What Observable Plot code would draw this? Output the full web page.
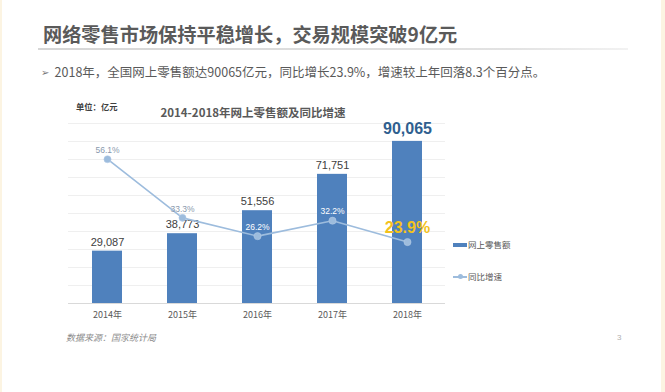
<!DOCTYPE html>
<html>
<head>
<meta charset="utf-8">
<script src="https://cdn.jsdelivr.net/npm/d3@7"></script>
<script src="https://cdn.jsdelivr.net/npm/@observablehq/plot@0.6"></script>
<style>
  html, body { margin: 0; padding: 0; }
  body { width: 665px; height: 392px; background: #fcf4e2; position: relative; overflow: hidden;
         font-family: "Noto Sans CJK SC", "Liberation Sans", sans-serif; }
  #page { position: absolute; left: 2px; top: 0; width: 659px; height: 392px; background: #ffffff; }
  .abs { position: absolute; white-space: nowrap; line-height: 1; }
  #chart { position: absolute; left: 0; top: 0; }
</style>
</head>
<body>
<div id="page"></div>
<div id="chart"></div>
<div class="abs" style="left:43px; top:25px; font-size:19.2px; font-weight:bold; color:#5a5a5a;">网络零售市场保持平稳增长，交易规模突破9亿元</div>
<div class="abs" style="left:38px; top:48px; width:590px; height:2px; background:linear-gradient(to right,#d6d6d6,#e2e2e2 80%,#f2f2f2);"></div>
<div class="abs" style="left:41px; top:66px; font-size:12.5px; color:#595959;"><span style="font-size:10px; color:#777; position:relative; top:-1px;">➢</span>&nbsp; 2018年，全国网上零售额达90065亿元，同比增长23.9%，增速较上年回落8.3个百分点。</div>
<div class="abs" style="left:76px; top:102px; font-size:8.3px; font-weight:bold; color:#404040;">单位：亿元</div>
<div class="abs" style="left:253px; top:107px; transform:translateX(-50%); font-size:11.5px; font-weight:bold; color:#595959;">2014-2018年网上零售额及同比增速</div>
<div class="abs" style="left:453px; top:243px; width:14px; height:4px; background:#4f81bd;"></div>
<div class="abs" style="left:468px; top:240px; font-size:8.5px; color:#595959;">网上零售额</div>
<div class="abs" style="left:453px; top:276px; width:14px; height:1.5px; background:#9dbcdd;"></div>
<div class="abs" style="left:457.5px; top:274px; width:5px; height:5px; border-radius:50%; background:#9dbcdd;"></div>
<div class="abs" style="left:468px; top:272px; font-size:8.5px; color:#595959;">同比增速</div>
<div class="abs" style="left:66px; top:333px; font-size:9px; font-style:italic; color:#8c8c8c;">数据来源：国家统计局</div>
<div class="abs" style="left:617px; top:334px; font-size:8px; color:#b0b0b0; font-family:'Liberation Sans';">3</div>
<script>
const years = [2014, 2015, 2016, 2017, 2018];
const sales = [29087, 38773, 51556, 71751, 90065];
const growth = [56.1, 33.3, 26.2, 32.2, 23.9];
const gridTicks = [10000, 20000, 30000, 40000, 50000, 60000, 70000, 80000, 90000, 100000];
const salesMax = 100000;
const growthMax = 70;

const rows = years.map((y, i) => ({year: y, sales: sales[i], growth: growth[i]}));
const toPrimary = g => g * salesMax / growthMax;
const fmt = d3.format(",");

const chart = Plot.plot({
  width: 665,
  height: 392,
  marginLeft: 68,
  marginRight: 220,
  marginTop: 123,
  marginBottom: 89,
  style: {background: "transparent", fontFamily: "'Liberation Sans', 'Noto Sans CJK SC', sans-serif"},
  x: {type: "band", domain: years, paddingInner: 0.6, paddingOuter: 0.3, axis: null, label: null},
  y: {domain: [0, salesMax], axis: null, label: null},
  marks: [
    Plot.ruleY(gridTicks, {stroke: "#efefef", strokeWidth: 1}),
    Plot.barY(rows, {x: "year", y: "sales", fill: "#4f81bd"}),
    Plot.ruleY([0], {stroke: "#d9d9d9", strokeWidth: 1.2}),
    Plot.axisX({tickSize: 0, tickPadding: 8, fontSize: 9, fill: "#595959", label: null,
                fontFamily: "'Noto Sans CJK SC', sans-serif", tickFormat: d => d + "年"}),
    Plot.text(rows.filter(d => d.year !== 2018), {x: "year", y: "sales", text: d => fmt(d.sales),
      dy: -9, fontSize: 11, fill: "#404040"}),
    Plot.text(rows.filter(d => d.year === 2018), {x: "year", y: "sales", text: d => fmt(d.sales),
      dy: -13, fontSize: 16, fontWeight: "bold", fill: "#2f5f8f"}),
    Plot.line(rows, {x: "year", y: d => toPrimary(d.growth), stroke: "#9dbcdd", strokeWidth: 1.6}),
    Plot.dot(rows, {x: "year", y: d => toPrimary(d.growth), r: 3.6, fill: "#9dbcdd", stroke: "#b6cde6", strokeWidth: 0.5}),
    Plot.text(rows.filter(d => d.year <= 2015), {x: "year", y: d => toPrimary(d.growth), text: d => d.growth.toFixed(1) + "%",
      dy: -9, fontSize: 8.5, fill: "#8a99ad"}),
    Plot.text(rows.filter(d => d.year === 2016 || d.year === 2017), {x: "year", y: d => toPrimary(d.growth), text: d => d.growth.toFixed(1) + "%",
      dy: -9, fontSize: 8.5, fill: "#ffffff"}),
    Plot.text(rows.filter(d => d.year === 2018), {x: "year", y: d => toPrimary(d.growth), text: d => d.growth.toFixed(1) + "%",
      dy: -14, fontSize: 16, fontWeight: "bold", fill: "#f3c21b"})
  ]
});
document.getElementById("chart").appendChild(chart);
</script>
</body>
</html>
